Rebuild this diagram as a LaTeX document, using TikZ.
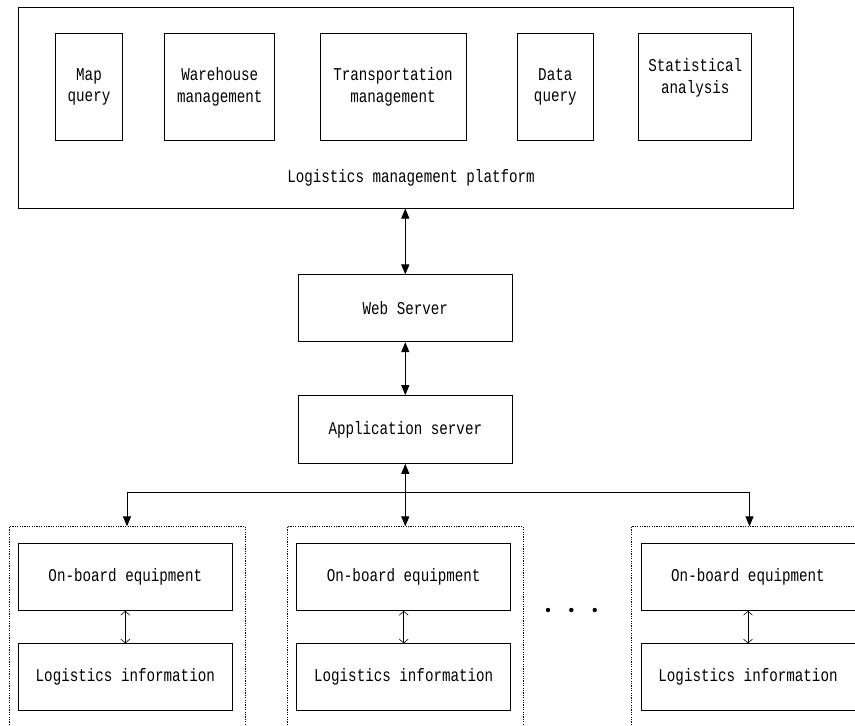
\documentclass[tikz,border=0pt]{standalone}
\usepackage{fontspec}
\setmainfont{Liberation Mono}[FakeStretch=0.79]
\usetikzlibrary{arrows.meta}

\tikzset{
  boxfont/.style={font=\fontsize{18}{21.6}\selectfont},
  box/.style={draw, line width=1pt, rectangle, align=center, inner sep=0pt, boxfont},
  grpbox/.style={draw, line width=0.6pt, dash pattern=on 1.2pt off 1.2pt, rectangle},
  bigarrow/.style={line width=1pt, -{Triangle[length=10pt,width=8pt]}},
  bothways/.style={line width=1pt, {Triangle[length=10pt,width=8pt]}-{Triangle[length=10pt,width=8pt]}},
  smallarrow/.style={line width=0.6pt, {Straight Barb[length=4pt,width=9pt]}-{Straight Barb[length=4pt,width=9pt]}}
}

\begin{document}
\begin{tikzpicture}[x=1pt,y=-1pt]

\clip (0,0) rectangle (855,726);
\useasboundingbox (0,0) rectangle (855,726);

% Draw platform and its modules
\node[box, minimum width=775pt, minimum height=201pt] (platform) at (405.5,107.5) {};
\node[boxfont] (platformlabel) at (411,178) {Logistics management platform};
\node[box, minimum width=67.4pt, minimum height=107.4pt] (mapq) at (89,87) {Map\\query};
\node[box, minimum width=109.7pt, minimum height=107.4pt] (whouse) at (219.8,87) {Warehouse\\management};
\node[box, minimum width=146pt, minimum height=107.4pt] (transp) at (393,87) {Transportation\\management};
\node[box, minimum width=76pt, minimum height=107.4pt] (dataq) at (555.3,87) {Data\\query};
\node[box, minimum width=112.7pt, minimum height=107.4pt] (stat) at (695.3,87) {Statistical\\analysis\\\mbox{}};

% Draw servers
\node[box, minimum width=214pt, minimum height=66.7pt] (web) at (405.3,308.3) {Web Server};
\node[box, minimum width=214pt, minimum height=67.6pt] (app) at (405.3,429.5) {Application server};

% Draw vehicle groups
\foreach \i/\x/\gx in {1/125.3/127, 2/403.7/405, 3/748/749.5} {
  \node[grpbox, minimum width=236pt, minimum height=233.3pt] (grp\i) at (\gx,643.3) {};
  \node[box, minimum width=214pt, minimum height=67pt] (obe\i) at (\x,576.8) {On-board equipment};
  \node[box, minimum width=214pt, minimum height=66.7pt] (info\i) at (\x,677.3) {Logistics information};
  \draw[smallarrow] (obe\i) -- (info\i);
}

% Draw connections
\coordinate (bus) at (405.3,492.7);
\draw[bothways] (platform.south -| web) -- (web);
\draw[bothways] (web) -- (app);
\draw[bothways] (app) -- (app.south |- grp2.north);
\draw[bigarrow] (bus) -| (grp1.north);
\draw[bigarrow] (bus) -| (grp3.north);

% Draw dots
\foreach \x in {548,571.3,594.7}
  \fill (\x,610) circle (2.2pt);

\end{tikzpicture}
\end{document}
